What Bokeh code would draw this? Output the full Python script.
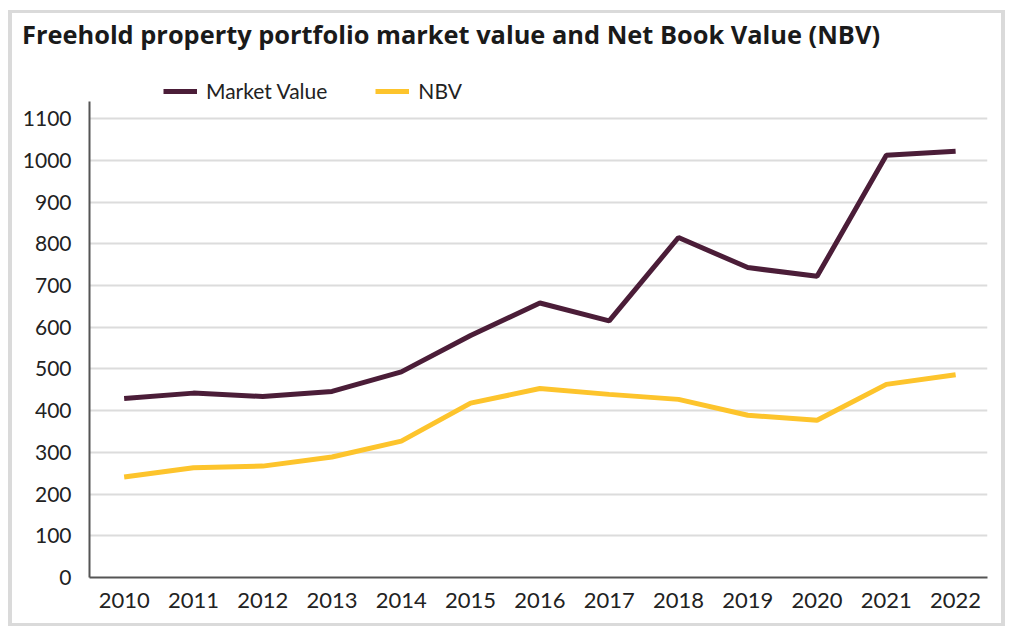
from bokeh.plotting import figure
from bokeh.layouts import column
from bokeh.models import Range1d, FixedTicker, Legend, LegendItem, Div
from bokeh.embed import file_html
from bokeh.resources import INLINE

years = [2010, 2011, 2012, 2013, 2014, 2015, 2016, 2017, 2018, 2019, 2020, 2021, 2022]
market_value = [429, 442, 434, 446, 493, 580, 658, 615, 815, 743, 722, 1012, 1022]
nbv = [241, 263, 267, 289, 327, 418, 453, 439, 427, 389, 377, 463, 486]
y_ticks = [0, 100, 200, 300, 400, 500, 600, 700, 800, 900, 1000, 1100]

title_text = "Freehold property portfolio market value and Net Book Value (NBV)"

title_div = Div(text=title_text, width=989, height=40, margin=0,
                styles={"background-color": "white", "font-family": "Open Sans",
                        "font-size": "25.4px", "font-weight": "bold", "color": "#1a1a1a",
                        "line-height": "42px", "padding-left": "10px",
                        "white-space": "nowrap", "box-sizing": "border-box"})

p = figure(width=989, height=570, output_backend="svg", toolbar_location=None,
           title_location=None,
           x_range=Range1d(2009.5, 2022.46), y_range=Range1d(0, 1201),
           min_border_left=77, min_border_right=14, min_border_top=23, min_border_bottom=46)
p.margin = 0

p.outline_line_color = None
p.background_fill_color = "white"
p.border_fill_color = "white"

r1 = p.line(years, market_value, line_color="#4b1d38", line_width=5)
r2 = p.line(years, nbv, line_color="#fdc42c", line_width=5)

p.xgrid.grid_line_color = None
p.ygrid.grid_line_color = "#dcdcdc"
p.ygrid.grid_line_width = 2
p.ygrid.ticker = FixedTicker(ticks=y_ticks[1:])

p.yaxis.ticker = FixedTicker(ticks=y_ticks)
p.yaxis.bounds = (0, 1142)
p.xaxis.ticker = FixedTicker(ticks=years)
for ax in (p.xaxis, p.yaxis):
    ax.axis_line_color = "#555555"
    ax.axis_line_width = 2
    ax.major_tick_line_color = None
    ax.minor_tick_line_color = None
    ax.major_label_text_font = "Lato"
    ax.major_label_text_color = "#222222"
p.yaxis.major_label_text_font_size = "21px"
p.xaxis.major_label_text_font_size = "22px"
p.yaxis.major_label_standoff = 12
p.xaxis.major_label_standoff = 9

legend = Legend(items=[LegendItem(label="Market Value", renderers=[r1]),
                       LegendItem(label="NBV", renderers=[r2])],
                location=(74, 474), orientation="horizontal",
                label_text_font="Lato", label_text_font_size="21px", label_text_color="#222222",
                glyph_width=34, glyph_height=20, label_height=20, label_standoff=9, spacing=48,
                padding=0, margin=0, border_line_color=None, background_fill_alpha=0)
p.add_layout(legend, "center")

inner = column(title_div, p, spacing=0, margin=(3, 4, 3, 4),
               styles={"background-color": "white"})
page = column(inner, spacing=0, margin=(10, 0, 0, 8),
              styles={"background-color": "#dadada"})

open("out.html", "w").write(file_html(page, INLINE))
